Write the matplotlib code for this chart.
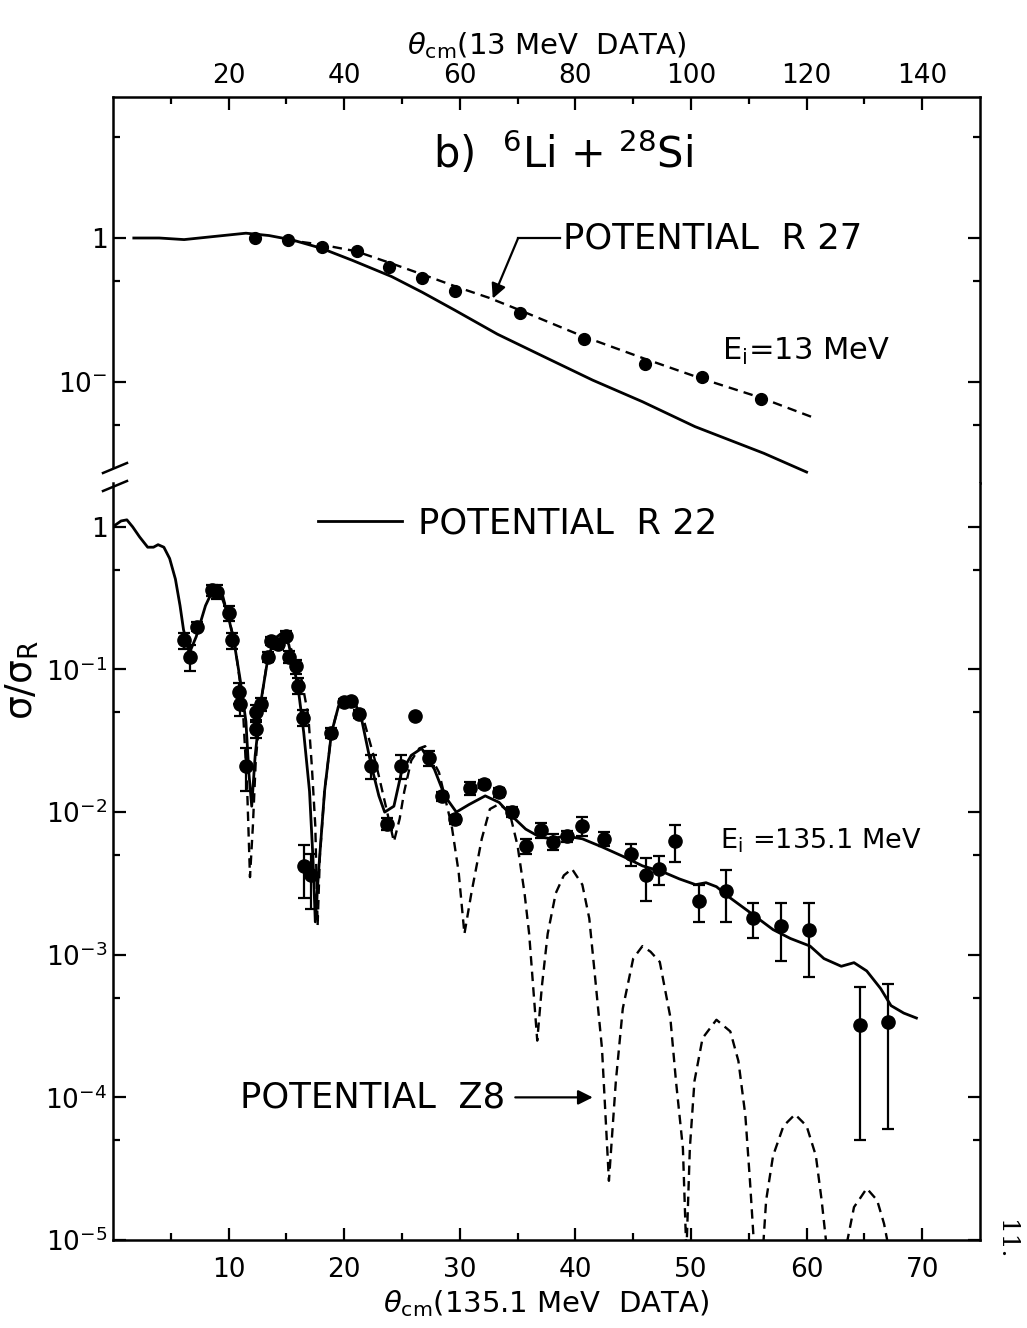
import matplotlib
matplotlib.use("Agg")
import matplotlib.pyplot as plt
from matplotlib.lines import Line2D
from matplotlib.ticker import NullFormatter

plt.rcParams["font.family"] = "DejaVu Sans"
plt.rcParams["mathtext.fontset"] = "dejavusans"

# 13 MeV data, angles on the upper scale
theta_13 = [24.6, 30.3, 36.2, 42.2, 47.7, 53.5, 59.1, 70.4, 81.5, 92.0, 101.9, 112.1]
ratio_13 = [1.0, 0.97, 0.87, 0.81, 0.63, 0.53, 0.43, 0.30, 0.20, 0.133, 0.108, 0.076]

# potential R27 at 13 MeV (dashed)
r27_theta = [30, 36, 42, 48, 54, 60, 65, 70, 81, 92, 102, 112, 121]
r27_ratio = [0.97, 0.90, 0.81, 0.67, 0.55, 0.45, 0.385, 0.32, 0.21, 0.145, 0.105, 0.078, 0.057]

# potential R22 at 13 MeV (solid)
r22_13_theta = [3.6, 8, 12.3, 17, 23, 27, 31, 36, 41.4, 48.2, 53.5, 59.1, 66.5, 75, 83,
                91.6, 100.7, 112.6, 120]
r22_13_ratio = [1.0, 1.0, 0.975, 1.02, 1.08, 1.04, 0.97, 0.85, 0.70, 0.54, 0.42, 0.316,
                0.215, 0.147, 0.103, 0.073, 0.049, 0.032, 0.0237]

# 135.1 MeV data, angles on the lower scale
theta_135 = [6.1, 6.7, 7.3, 8.6, 9.0, 10.0, 10.3, 10.9, 11.0, 11.5, 12.35, 12.4, 12.8,
             13.4, 13.65, 14.25, 14.95, 15.2, 15.8, 16.0, 16.4, 16.5, 17.1, 18.9, 20.0,
             20.6, 21.3, 22.35, 23.7, 24.9, 26.1, 27.3, 28.5, 29.6, 30.9, 32.1, 33.4,
             34.5, 35.7, 37.0, 38.1, 39.3, 40.6, 42.5, 44.8, 46.1, 47.2, 48.6, 50.7,
             53.0, 55.4, 57.8, 60.2, 64.6, 67.0]
ratio_135 = [0.16, 0.123, 0.20, 0.36, 0.35, 0.25, 0.16, 0.069, 0.057, 0.021, 0.050, 0.038,
             0.057, 0.123, 0.158, 0.15, 0.173, 0.123, 0.105, 0.077, 0.046, 0.0042, 0.0036,
             0.036, 0.059, 0.060, 0.049, 0.021, 0.0083, 0.021, 0.047, 0.024, 0.0129,
             0.0089, 0.0147, 0.0157, 0.0138, 0.010, 0.0058, 0.0075, 0.0062, 0.0068,
             0.0080, 0.0065, 0.0051, 0.0036, 0.0040, 0.0063, 0.0024, 0.0028, 0.0018,
             0.0016, 0.0015, 3.2e-4, 3.4e-4]
err_135 = [0.02, 0.025, 0.015, 0.03, 0.04, 0.03, 0.02, 0.012, 0.01, 0.007, 0.006, 0.005,
           0.006, 0.01, 0.01, 0.01, 0.012, 0.012, 0.012, 0.01, 0.006, 0.0017, 0.0015,
           0.003, 0.003, 0.003, 0.003, 0.004, 0.0008, 0.004, 0.0, 0.003, 0.001, 0.0007,
           0.0015, 0.001, 0.001, 0.0008, 0.0007, 0.0009, 0.0008, 0.0006, 0.0012, 0.0007,
           0.0009, 0.0012, 0.0009, 0.0018, 0.0007, 0.0011, 0.0005, 0.0007, 0.0008,
           2.7e-4, 2.8e-4]

# potential R22 at 135.1 MeV (solid)
r22_theta = [0.2, 0.7, 1.2, 1.7, 2.3, 3.0, 3.5, 3.9, 4.4, 4.9, 5.4, 5.8, 6.1, 6.6, 7.2,
             8.0, 8.7, 9.2, 9.9, 10.45, 11.0, 11.5, 11.75, 12.0, 12.3, 12.8, 13.4, 14.0,
             14.6, 15.2, 16.0, 16.5, 17.0, 17.3, 17.5, 17.8, 18.3, 18.9, 19.5, 20.0,
             20.8, 21.5, 22.3, 23.0, 23.5, 24.3, 24.95, 25.8, 26.7, 27.8, 28.7, 29.7,
             30.8, 32.2, 33.4, 34.5, 35.7, 36.9, 38.0, 39.1, 40.6, 42.3, 44.1, 45.8,
             47.6, 49.0, 50.4, 51.3, 52.2, 53.4, 55.4, 57.1, 58.6, 60.3, 61.5, 63.0,
             64.1, 65.2, 66.4, 67.3, 68.4, 69.5]
r22_ratio = [1.03, 1.1, 1.12, 1.0, 0.85, 0.72, 0.72, 0.75, 0.72, 0.6, 0.43, 0.28, 0.19,
             0.13, 0.17, 0.28, 0.37, 0.36, 0.25, 0.16, 0.085, 0.043, 0.019, 0.011, 0.025,
             0.06, 0.12, 0.165, 0.18, 0.15, 0.076, 0.036, 0.014, 0.0047, 0.0017, 0.004,
             0.014, 0.036, 0.055, 0.062, 0.062, 0.045, 0.022, 0.013, 0.010, 0.011, 0.019,
             0.025, 0.028, 0.020, 0.013, 0.010, 0.0113, 0.013, 0.0117, 0.0094, 0.0076,
             0.0067, 0.0065, 0.0068, 0.0065, 0.0057, 0.0049, 0.0042, 0.0038, 0.0034,
             0.0031, 0.0032, 0.0030, 0.0025, 0.0019, 0.0015, 0.0013, 0.00115, 0.00094,
             0.00083, 0.00088, 0.00077, 0.00058, 0.00044, 0.00039, 0.00036]

# potential Z8 at 135.1 MeV (dashed)
z8_theta = [9.5, 10.5, 11.2, 11.6, 11.85, 12.1, 12.35, 12.8, 13.4, 13.9, 14.7, 15.4, 16.2,
            16.9, 17.2, 17.5, 17.7, 17.9, 18.3, 18.9, 19.5, 20.2, 21.0, 21.6, 22.8, 23.6,
            24.3, 24.8, 25.2, 25.8, 26.5, 27.0, 28.2, 29.3, 29.9, 30.4, 31.0, 31.9, 32.6,
            33.4, 34.3, 35.0, 35.6, 36.0, 36.7, 37.1, 37.6, 38.3, 39.0, 39.7, 40.6, 41.2,
            41.7, 42.3, 42.9, 43.5, 44.1, 45.0, 45.8, 46.5, 47.3, 48.2, 48.7, 49.3, 49.6,
            49.9, 50.3, 51.0, 52.2, 53.4, 54.1, 54.7, 55.1, 55.5, 56.2, 56.5, 57.1, 58.0,
            59.0, 60.0, 60.8, 61.3, 61.8, 63.3, 64.1, 64.7, 65.2, 66.1, 66.7, 67.2]
z8_ratio = [0.33, 0.16, 0.06, 0.015, 0.0035, 0.008, 0.023, 0.059, 0.123, 0.158, 0.168,
            0.14, 0.095, 0.047, 0.021, 0.008, 0.0016, 0.005, 0.014, 0.036, 0.055, 0.063,
            0.06, 0.047, 0.021, 0.011, 0.0062, 0.009, 0.014, 0.023, 0.028, 0.029, 0.019,
            0.008, 0.0038, 0.0014, 0.0027, 0.0065, 0.0105, 0.0114, 0.010, 0.0058, 0.0027,
            0.0014, 0.00025, 0.0006, 0.0014, 0.0027, 0.0036, 0.0040, 0.0031, 0.0018,
            0.0007, 0.00022, 2.6e-5, 1.3e-4, 4.2e-4, 9.4e-4, 1.15e-3, 1.05e-3, 8.9e-4,
            3.7e-4, 1.3e-4, 4.4e-5, 8e-6, 4.4e-5, 1.3e-4, 2.6e-4, 3.5e-4, 2.9e-4, 1.8e-4,
            7.5e-5, 2.6e-5, 8e-6, 8e-6, 1.9e-5, 3.9e-5, 6.3e-5, 7.6e-5, 6.3e-5, 3.9e-5,
            1.9e-5, 8e-6, 8e-6, 1.7e-5, 2.0e-5, 2.3e-5, 1.9e-5, 1.3e-5, 8e-6]

# tick positions and labels
top_ticks = [20, 40, 60, 80, 100, 120, 140]
top_minor = [10, 30, 50, 70, 90, 110, 130]
bot_ticks = [10, 20, 30, 40, 50, 60, 70]
bot_minor = [5, 15, 25, 35, 45, 55, 65]
top_yticks = [0.1, 1]
top_ylabels = ["10$^{-}$", "1"]
top_yminor = [0.05, 0.5, 5]
bot_yticks = [1e-5, 1e-4, 1e-3, 1e-2, 1e-1, 1]
bot_ylabels = ["10$^{-5}$", "10$^{-4}$", "10$^{-3}$", "10$^{-2}$", "10$^{-1}$", "1"]
bot_yminor = [5e-5, 5e-4, 5e-3, 5e-2, 0.5]

DASH = (0, (4, 2.6))


# common look of the frame and ticks
def style_axes(ax):
    for sp in ax.spines.values():
        sp.set_linewidth(1.8)
    ax.tick_params(which="both", direction="in", width=1.6, labelsize=19, pad=4)
    ax.tick_params(which="major", length=9)
    ax.tick_params(which="minor", length=5)


def plot():
    W, H = 1027, 1328
    fig = plt.figure(figsize=(W / 100, H / 100), dpi=100)
    left, right = 113 / W, 980 / W
    ax_top = fig.add_axes([left, 1 - 483 / H, right - left, (483 - 97) / H])
    ax_bot = fig.add_axes([left, 1 - 1240 / H, right - left, (1240 - 483) / H])

    # upper panel: 13 MeV
    ax_top.set_yscale("log")
    ax_top.plot(r22_13_theta, r22_13_ratio, color="k", lw=2.0)
    ax_top.plot(r27_theta, r27_ratio, color="k", lw=1.7, ls=DASH)
    ax_top.plot(theta_13, ratio_13, "o", color="k", ms=8.5)
    ax_top.set_xlim(0, 150)
    ax_top.set_ylim(0.0199, 9.53)
    style_axes(ax_top)
    ax_top.spines["bottom"].set_visible(False)
    ax_top.spines["left"].set_bounds(0.0257, 9.53)
    ax_top.xaxis.tick_top()
    ax_top.xaxis.set_label_position("top")
    ax_top.set_xticks(top_ticks)
    ax_top.set_xticks(top_minor, minor=True)
    ax_top.tick_params(axis="x", which="both", bottom=False, top=True, pad=6)
    ax_top.set_yticks(top_yticks)
    ax_top.set_yticklabels(top_ylabels)
    ax_top.set_yticks(top_yminor, minor=True)
    ax_top.yaxis.set_minor_formatter(NullFormatter())
    ax_top.tick_params(axis="y", which="both", left=True, right=True)
    ax_top.set_xlabel(r"$\theta_{\rm cm}$(13 MeV  DATA)", fontsize=21, labelpad=6)

    ax_top.text(55.4, 3.06, r"b)  $^{6}$Li + $^{28}$Si", fontsize=30,
                ha="left", va="baseline")
    ax_top.text(77.9, 1.0, "POTENTIAL  R 27", fontsize=25.5, ha="left", va="center")
    ax_top.plot([77.3, 70.1], [1.0, 1.0], color="k", lw=1.6)
    ax_top.annotate("", xy=(65.7, 0.38), xytext=(70.1, 1.0),
                    arrowprops=dict(arrowstyle="-|>", color="k", lw=1.6,
                                    mutation_scale=22, shrinkA=0, shrinkB=0))
    ax_top.text(105.4, 0.142, r"E$_{\rm i}$=13 MeV", fontsize=22,
                ha="left", va="baseline")

    # lower panel: 135.1 MeV
    ax_bot.set_yscale("log")
    line_r22, = ax_bot.plot(r22_theta, r22_ratio, color="k", lw=2.0,
                            label="POTENTIAL  R 22")
    ax_bot.plot(z8_theta, z8_ratio, color="k", lw=1.7, ls=DASH)
    ax_bot.errorbar(theta_135, ratio_135, yerr=err_135, fmt="o", color="k", ms=9.5,
                    elinewidth=1.6, capsize=4, capthick=1.6)
    ax_bot.set_xlim(0, 75)
    ax_bot.set_ylim(1e-5, 2.03)
    style_axes(ax_bot)
    ax_bot.spines["top"].set_visible(False)
    ax_bot.set_xticks(bot_ticks)
    ax_bot.set_xticks(bot_minor, minor=True)
    ax_bot.tick_params(axis="x", which="both", top=False, bottom=True, pad=12)
    ax_bot.set_yticks(bot_yticks)
    ax_bot.set_yticklabels(bot_ylabels)
    ax_bot.set_yticks(bot_yminor, minor=True)
    ax_bot.yaxis.set_minor_formatter(NullFormatter())
    ax_bot.tick_params(axis="y", which="both", left=True, right=True)
    ax_bot.set_xlabel(r"$\theta_{\rm cm}$(135.1 MeV  DATA)", fontsize=21, labelpad=4)

    ax_bot.legend(handles=[line_r22], loc="center left", bbox_to_anchor=(0.2364, 0.947),
                  frameon=False, fontsize=25.5, handlelength=2.37, handletextpad=0.45,
                  borderpad=0, borderaxespad=0)
    ax_bot.text(52.5, 0.00552, r"E$_{\rm i}$ =135.1 MeV", fontsize=19.5,
                ha="left", va="baseline")
    ax_bot.text(33.9, 1e-4, "POTENTIAL  Z8", fontsize=25.5, ha="right", va="center")
    ax_bot.annotate("", xy=(41.5, 1e-4), xytext=(34.8, 1e-4),
                    arrowprops=dict(arrowstyle="-|>", color="k", lw=1.6,
                                    mutation_scale=22, shrinkA=0, shrinkB=0))

    # axis break on the left spine
    for y0, y1 in [(473, 463), (491, 481)]:
        fig.add_artist(Line2D([103 / W, 127 / W], [1 - y0 / H, 1 - y1 / H],
                              transform=fig.transFigure, color="k", lw=1.8))

    fig.text(22 / W, 1 - 680 / H, r"σ/σ$_{\rm R}$", fontsize=27,
             rotation=90, ha="center", va="center")
    fig.text(1005 / W, 1 - 1240 / H, "11.", fontsize=18, rotation=270,
             ha="center", va="center", family="DejaVu Serif")

    fig.savefig("out.png", dpi=100)
    plt.close(fig)


if __name__ == "__main__":
    plot()
